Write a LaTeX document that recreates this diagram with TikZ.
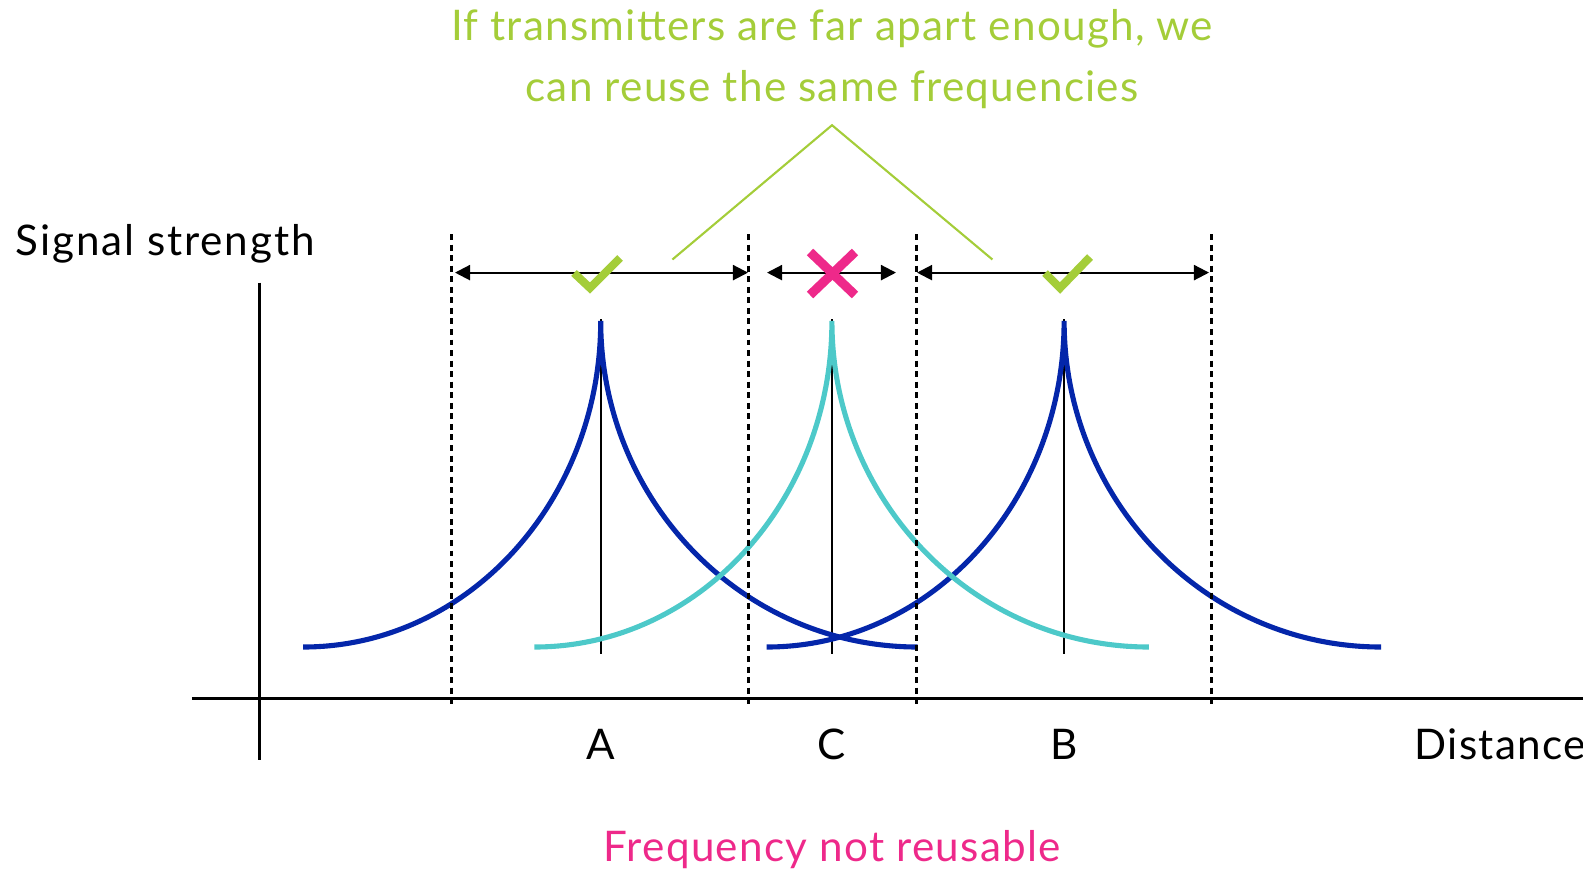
\documentclass[tikz,border=0pt]{standalone}
\usepackage{fontspec}
\setmainfont[LetterSpace=3]{Lato}
\usepackage{xcolor}
\usetikzlibrary{arrows.meta, positioning, calc}
\definecolor{SignalBlue}{RGB}{4, 38, 170}
\definecolor{SignalCyan}{RGB}{77, 201, 201}
\definecolor{ReuseGreen}{RGB}{164, 205, 57}
\definecolor{ClashPink}{RGB}{238, 41, 138}

\begin{document}
\begin{tikzpicture}[
    x=0.01cm, y=0.01cm,
    font=\fontsize{12}{17}\selectfont,
    axis/.style={line width=0.7pt},
    mast/.style={line width=0.6pt},
    border/.style={line width=0.8pt, dash pattern=on 1.7pt off 1.3pt},
    span/.style={{Triangle[length=4.3pt,width=4.3pt]}-{Triangle[length=4.3pt,width=4.3pt]}, line width=0.6pt},
    wave/.style={line width=1.45pt},
    tick/.style={ReuseGreen, line width=2.3pt},
    clash/.style={ClashPink, line width=2.6pt},
    callout/.style={ReuseGreen, line width=0.6pt},
    tag/.style={inner sep=0pt, anchor=base}
]
\useasboundingbox (0,0) rectangle (1583,-872);

% Nodes
\node[tag, ReuseGreen] (reuse1) at (832,-40.4) {If transmitters are far apart enough, we};
\node[tag, ReuseGreen] (reuse2) at (832,-101) {can reuse the same frequencies};
\node[tag, anchor=base west] (ylabel) at (15,-255) {\addfontfeature{LetterSpace=4.5}Signal strength};
\node[tag, anchor=base west] (xlabel) at (1414,-759) {Distance};
\node[tag] (A) at (600.7,-759) {A};
\node[tag] (C) at (831.9,-759) {C};
\node[tag] (B) at (1064.1,-759) {B};
\node[tag, ClashPink] (clashtext) at (832,-861) {Frequency not reusable};

% Axes
\coordinate (ytop) at (259.5,-282.7);
\coordinate (ybot) at (259.5,-760);
\coordinate (xleft) at (191.8,-698.6);
\coordinate (xright) at (1583,-698.6);
\draw[axis] (ytop) -- (ybot);
\draw[axis] (xleft) -- (xright);

% Transmitter masts and signal curves
\foreach \c in {600.7, 831.9, 1064.1}
    \draw[mast] (\c,-319) -- (\c,-654);
\foreach \c/\col in {600.7/SignalBlue, 1064.1/SignalBlue, 831.9/SignalCyan} {
    \draw[wave, \col] (\c-297.5,-647) arc[start angle=-90, end angle=0, x radius=297.5, y radius=326]
        arc[start angle=180, end angle=270, x radius=317, y radius=326];
}

% Cell borders
\foreach \x [count=\i] in {451.3, 748.1, 916.7, 1211.5} {
    \coordinate (b\i top) at (\x,-234);
    \coordinate (b\i bot) at (\x,-707);
    \draw[border] (b\i top) -- (b\i bot);
}

% Spans
\coordinate (s1l) at (455,-272.6);
\coordinate (s1r) at (748,-272.6);
\coordinate (s2l) at (767,-272.6);
\coordinate (s2r) at (896,-272.6);
\coordinate (s3l) at (917,-272.6);
\coordinate (s3r) at (1209,-272.6);
\draw[span] (s1l) -- (s1r);
\draw[span] (s2l) -- (s2r);
\draw[span] (s3l) -- (s3r);

% Marks
\draw[tick] (574,-273) -- (590,-288) -- (620,-258);
\draw[tick] (1045,-273) -- (1060,-288) -- (1090,-257);
\draw[clash] (810,-252) -- (855,-295);
\draw[clash] (855,-252) -- (810,-295);

% Callout
\coordinate (apex) at (832,-125.2);
\draw[callout] (672.4,-259.5) -- (apex) -- (992.4,-259.5);

\end{tikzpicture}
\end{document}
